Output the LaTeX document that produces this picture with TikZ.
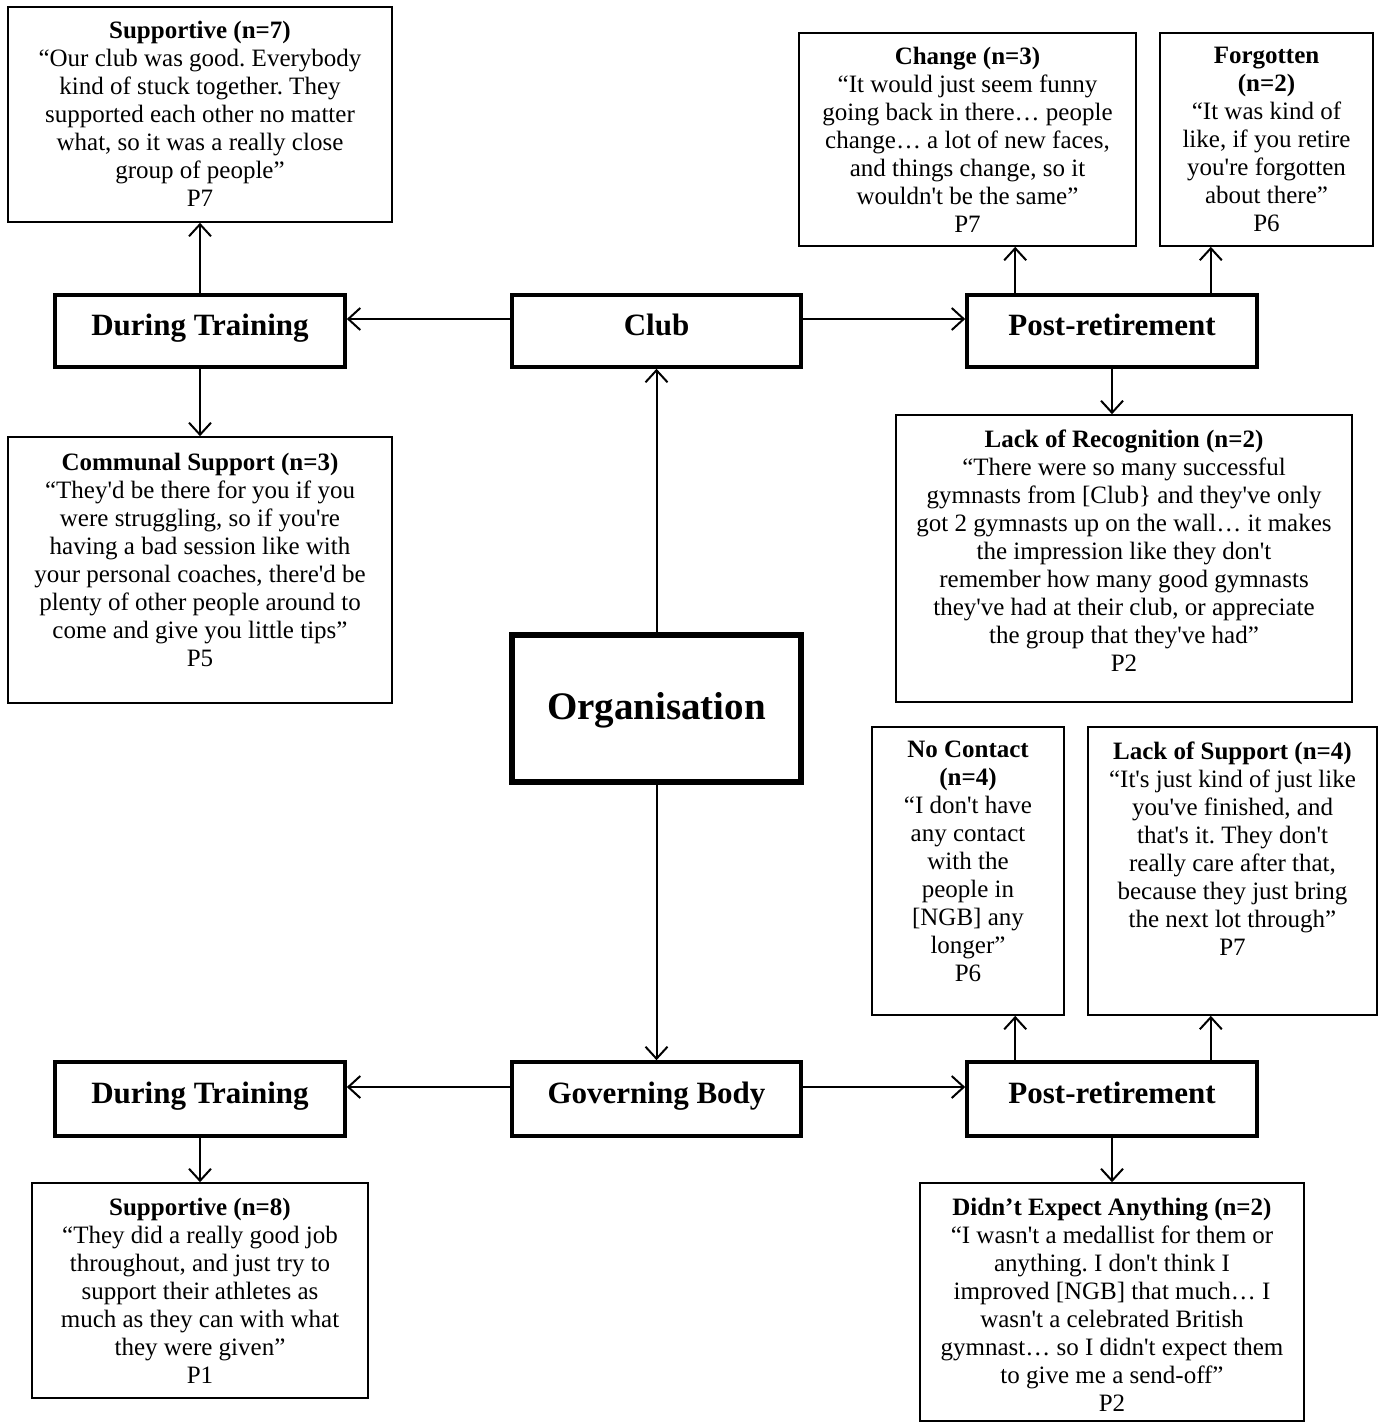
\documentclass[tikz,border=0pt]{standalone}
\usepackage{fontspec}
\setmainfont{Liberation Serif}[Ligatures=TeXOff]
\usetikzlibrary{arrows.meta}
\frenchspacing
\begin{document}
\begin{tikzpicture}[x=1pt,y=-1pt,
  qbox/.style={draw, line width=1.6pt, inner sep=0pt},
  tbox/.style={draw, line width=3.6pt, inner sep=0pt, text height=20pt, text depth=12pt, font=\fontsize{31}{36}\selectfont\bfseries},
  obox/.style={draw, line width=5.5pt, inner sep=0pt, text height=30pt, text depth=9pt, font=\fontsize{39}{44}\selectfont\bfseries},
  qtext/.style={anchor=north, inner sep=0pt, align=center, font=\fontsize{25}{28}\selectfont},
  arr/.style={-{Straight Barb[length=12pt,width=22pt,line width=2pt]}, line width=2pt}]
\useasboundingbox (0,0) rectangle (1381,1423);
\fill[white] (0,0) rectangle (1381,1423);

% main boxes
\node[tbox, minimum width=290pt, minimum height=72pt] (dt1) at (200,331) {During Training};
\node[tbox, minimum width=289pt, minimum height=72pt] (club) at (656.5,331) {Club};
\node[tbox, minimum width=290pt, minimum height=72pt] (pr1) at (1112,331) {Post-retirement};
\node[obox, minimum width=289pt, minimum height=147pt] (org) at (656.5,708.5) {Organisation};
\node[tbox, minimum width=290pt, minimum height=74pt] (dt2) at (200,1099) {During Training};
\node[tbox, minimum width=289pt, minimum height=74pt] (gb) at (656.5,1099) {Governing Body};
\node[tbox, minimum width=290pt, minimum height=74pt] (pr2) at (1112,1099) {Post-retirement};

% quote boxes
\node[qbox, minimum width=384pt, minimum height=215pt] (sup7) at (200,114.5) {};
\node[qbox, minimum width=384pt, minimum height=266pt] (comm) at (200,570) {};
\node[qbox, minimum width=337pt, minimum height=213pt] (change) at (967.5,139.5) {};
\node[qbox, minimum width=213pt, minimum height=213pt] (forgot) at (1266.5,139.5) {};
\node[qbox, minimum width=456pt, minimum height=287pt] (lrec) at (1124,558.5) {};
\node[qbox, minimum width=192pt, minimum height=288pt] (nocon) at (968,871) {};
\node[qbox, minimum width=289pt, minimum height=288pt] (lsup) at (1232.5,871) {};
\node[qbox, minimum width=336pt, minimum height=215pt] (sup8) at (200,1290.5) {};
\node[qbox, minimum width=384pt, minimum height=238pt] (dexp) at (1112,1302) {};

% quote texts
\node[qtext] (tsup7) at ([yshift=-15pt]sup7.north) {\textbf{Supportive (n=7)}\\
“Our club was good. Everybody\\ kind of stuck together. They\\ supported each other no matter\\ what, so it was a really close\\ group of people”\\ P7};
\node[qtext] (tcomm) at ([yshift=-17pt]comm.north) {\textbf{Communal Support (n=3)}\\
“They'd be there for you if you\\ were struggling, so if you're\\ having a bad session like with\\ your personal coaches, there'd be\\ plenty of other people around to\\ come and give you little tips”\\ P5};
\node[qtext] (tchange) at ([yshift=-15pt]change.north) {\textbf{Change (n=3)}\\
“It would just seem funny\\ going back in there… people\\ change… a lot of new faces,\\ and things change, so it\\ wouldn't be the same”\\ P7};
\node[qtext] (tforgot) at ([yshift=-15pt]forgot.north) {\textbf{Forgotten}\\ \textbf{(n=2)}\\
“It was kind of\\ like, if you retire\\ you're forgotten\\ about there”\\ P6};
\node[qtext] (tlrec) at ([yshift=-15pt]lrec.north) {\textbf{Lack of Recognition (n=2)}\\
“There were so many successful\\ gymnasts from [Club\} and they've only\\ got 2 gymnasts up on the wall… it makes\\ the impression like they don't\\ remember how many good gymnasts\\ they've had at their club, or appreciate\\ the group that they've had”\\ P2};
\node[qtext] (tnocon) at ([yshift=-15pt]nocon.north) {\textbf{No Contact}\\ \textbf{(n=4)}\\
“I don't have\\ any contact\\ with the\\ people in\\ {[}NGB{]} any\\ longer”\\ P6};
\node[qtext] (tlsup) at ([yshift=-15pt]lsup.north) {\textbf{Lack of Support (n=4)}\\
“It's just kind of just like\\ you've finished, and\\ that's it. They don't\\ really care after that,\\ because they just bring\\ the next lot through”\\ P7};
\node[qtext] (tsup8) at ([yshift=-16pt]sup8.north) {\textbf{Supportive (n=8)}\\
“They did a really good job\\ throughout, and just try to\\ support their athletes as\\ much as they can with what\\ they were given”\\ P1};
\node[qtext] (tdexp) at ([yshift=-16pt]dexp.north) {\textbf{Didn’t Expect Anything (n=2)}\\
“I wasn't a medallist for them or\\ anything. I don't think I\\ improved {[}NGB{]} that much… I\\ wasn't a celebrated British\\ gymnast… so I didn't expect them\\ to give me a send-off”\\ P2};

% connectors
\draw[arr] ([yshift=12pt]club.west) -- ([yshift=12pt]club.west -| dt1.east);
\draw[arr] ([yshift=12pt]club.east) -- ([yshift=12pt]club.east -| pr1.west);
\draw[arr] (dt1.north) -- (sup7.south);
\draw[arr] (dt1.south) -- (comm.north);
\draw[arr] (org.north) -- (club.south);
\draw[arr] (org.south) -- (gb.north);
\draw[arr] ([xshift=50pt]pr1.north west) -- ([xshift=50pt]pr1.north west |- change.south);
\draw[arr] ([xshift=-48pt]pr1.north east) -- ([xshift=-48pt]pr1.north east |- forgot.south);
\draw[arr] (pr1.south) -- (pr1.south |- lrec.north);

\draw[arr] ([yshift=12pt]gb.west) -- ([yshift=12pt]gb.west -| dt2.east);
\draw[arr] ([yshift=12pt]gb.east) -- ([yshift=12pt]gb.east -| pr2.west);
\draw[arr] (dt2.south) -- (sup8.north);
\draw[arr] ([xshift=50pt]pr2.north west) -- ([xshift=50pt]pr2.north west |- nocon.south);
\draw[arr] ([xshift=-48pt]pr2.north east) -- ([xshift=-48pt]pr2.north east |- lsup.south);
\draw[arr] (pr2.south) -- (dexp.north);
\end{tikzpicture}
\end{document}
